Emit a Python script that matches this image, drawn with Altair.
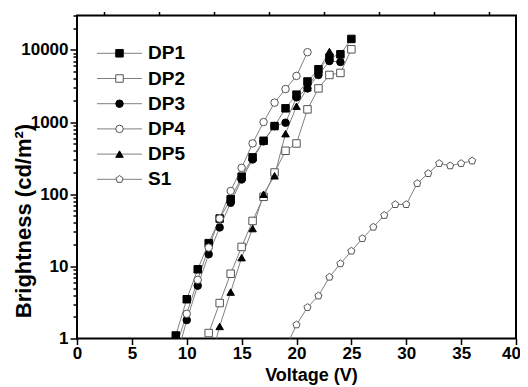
import altair as alt
import pandas as pd

# ---- data ----
series_names = ["DP1", "DP2", "DP3", "DP4", "DP5", "S1"]

v_dp1 = [9, 10, 11, 12, 13, 14, 15, 16, 17, 18, 19, 20, 21, 22, 23, 24, 25]
b_dp1 = [1.1, 3.5, 9.1, 21, 46, 85, 175, 324, 550, 880, 1550, 2400, 3650, 5400, 7800, 8700, 14200]

v_dp2 = [12, 13, 14, 15, 16, 17, 18, 19, 20, 21, 22, 23, 24, 25]
b_dp2 = [1.19, 3.1, 7.9, 18.6, 42.6, 92, 200, 400, 505, 1500, 2930, 4500, 4800, 10200]

v_dp3 = [9, 10, 11, 12, 13, 14, 15, 16, 17, 18, 19, 20, 21, 22, 23, 24]
b_dp3 = [0.5, 1.8, 5.4, 14.7, 34.6, 76, 160, 303, 540, 880, 980, 2200, 2930, 4500, 7000, 6800]

v_dp4 = [9, 10, 11, 12, 13, 14, 15, 16, 17, 18, 19, 20, 21]
b_dp4 = [0.74, 2.2, 6.5, 18.2, 46, 111, 232, 506, 1000, 1860, 2870, 4360, 9300]

v_dp5 = [12, 13, 14, 15, 16, 17, 18, 19, 20, 21, 22, 23]
b_dp5 = [0.42, 1.47, 4.4, 13.2, 33.4, 100, 180, 690, 1660, 3000, 5200, 9500]

v_s1 = [19, 20, 21, 22, 23, 24, 25, 26, 27, 28, 29, 30, 31, 32, 33, 34, 35, 36]
b_s1 = [0.74, 1.55, 2.7, 3.9, 7.1, 10.9, 16.3, 24.3, 35, 51, 72, 72, 141, 194, 267, 248, 267, 290]

x_major = [0, 5, 10, 15, 20, 25, 30, 35, 40]
x_minor = [2.5, 7.5, 12.5, 17.5, 22.5, 27.5, 32.5, 37.5]
y_major = [1, 10, 100, 1000, 10000]
y_minor = [2, 3, 4, 5, 6, 7, 8, 9,
           20, 30, 40, 50, 60, 70, 80, 90,
           200, 300, 400, 500, 600, 700, 800, 900,
           2000, 3000, 4000, 5000, 6000, 7000, 8000, 9000,
           20000, 30000]

# ---- tables ----
rows = []
for name, vs, bs in zip(series_names,
                        [v_dp1, v_dp2, v_dp3, v_dp4, v_dp5, v_s1],
                        [b_dp1, b_dp2, b_dp3, b_dp4, b_dp5, b_s1]):
    for v, b in zip(vs, bs):
        rows.append({"series": name, "V": v, "B": b})
df = pd.DataFrame(rows)
leg = pd.DataFrame({"series": series_names, "idx": list(range(len(series_names)))})

FONT = "Liberation Sans"
PENT = "M0,-1L0.951,-0.309L0.588,0.809L-0.588,0.809L-0.951,-0.309Z"

shape_scale = alt.Scale(domain=series_names,
                        range=["square", "square", "circle", "circle", "triangle-up", PENT])
fill_scale = alt.Scale(domain=series_names,
                       range=["black", "white", "black", "white", "black", "white"])
stroke_scale = alt.Scale(domain=series_names,
                         range=["black", "#555555", "black", "#555555", "black", "#555555"])

x_scale = alt.Scale(domain=[0, 40], nice=False, zero=False)
y_scale = alt.Scale(type="log", domain=[1, 30000], nice=False)

axis_common = dict(domain=False, grid=False, tickColor="black", tickWidth=1.5)

x_axis_major = alt.Axis(values=x_major, format="d", tickSize=6,
                        labelFont=FONT, labelFontSize=17, labelFontWeight="bold",
                        labelColor="black", labelPadding=1, labelFlush=False,
                        labelOffset={"condition": {"test": "datum.value == 40", "value": -5},
                                     "value": 0},
                        title="Voltage (V)", titleFont=FONT, titleFontSize=18,
                        titleFontWeight="bold", titleColor="black",
                        titleX=234, titleY=42, titleBaseline="alphabetic",
                        **axis_common)
x_axis_minor = alt.Axis(values=x_minor, labels=False, tickSize=4, title=None, **axis_common)

y_axis_major = alt.Axis(values=y_major, format="d", tickSize=7, orient="left",
                        labelFont=FONT, labelFontSize=17, labelFontWeight="bold",
                        labelColor="black", labelPadding=2, labelFlush=False,
                        title="Brightness (cd/m²)", titleFont=FONT, titleFontSize=22,
                        titleFontWeight="bold", titleColor="black",
                        titleAngle=270, titleX=-54, titleY=205,
                        titleAlign="center", titleBaseline="middle",
                        **axis_common)
y_axis_minor = alt.Axis(values=y_minor, labels=False, tickSize=4, orient="left",
                        title=None, **axis_common)

base = alt.Chart(df)

lines = base.mark_line(color="#808080", strokeWidth=1, clip=True).encode(
    x=alt.X("V:Q", scale=x_scale, axis=x_axis_major),
    y=alt.Y("B:Q", scale=y_scale, axis=y_axis_major),
    detail="series:N",
    order="V:Q",
)

points = base.mark_point(filled=True, size=56, strokeWidth=1, opacity=1, clip=True).encode(
    x=alt.X("V:Q", scale=x_scale, axis=x_axis_minor),
    y=alt.Y("B:Q", scale=y_scale, axis=y_axis_minor),
    shape=alt.Shape("series:N", scale=shape_scale, legend=None),
    fill=alt.Fill("series:N", scale=fill_scale, legend=None),
    stroke=alt.Stroke("series:N", scale=stroke_scale, legend=None),
)

leg_y = alt.Y("idx:Q", scale=alt.Scale(domain=[0, 5], range=[37.8, 163.8]), axis=None)

leg_rule = alt.Chart(leg).mark_rule(color="#808080", strokeWidth=1).encode(
    x=alt.value(20), x2=alt.value(65), y=leg_y,
)
leg_pts = alt.Chart(leg).mark_point(filled=True, size=56, strokeWidth=1, opacity=1).encode(
    x=alt.value(42.5), y=leg_y,
    shape=alt.Shape("series:N", scale=shape_scale, legend=None),
    fill=alt.Fill("series:N", scale=fill_scale, legend=None),
    stroke=alt.Stroke("series:N", scale=stroke_scale, legend=None),
)
leg_txt = alt.Chart(leg).mark_text(align="left", baseline="middle", font=FONT,
                                   fontSize=19, fontWeight="bold", color="black").encode(
    x=alt.value(71), y=leg_y, text="series:N",
)

chart = alt.layer(lines, points, leg_rule, leg_pts, leg_txt).resolve_scale(
    y="independent"
).resolve_axis(
    x="independent", y="independent"
).properties(
    width=439, height=323,
    autosize=alt.AutoSizeParams(type="none"),
    padding={"left": 69, "top": 7.5, "right": 4, "bottom": 50},
).configure_view(stroke="black", strokeWidth=2)

chart.save("out.html", embed_options={"renderer": "svg", "actions": False})
